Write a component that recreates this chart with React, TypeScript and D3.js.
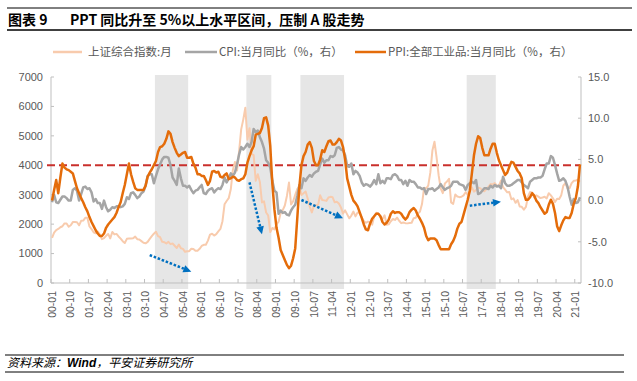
import React from "react";
import * as d3 from "d3";

// ---------- data ----------
const startYear = 2000;
const monthCount = 255; // 2000-01 .. 2021-03
const categories: string[] = [];
for (let i = 0; i < monthCount; i++) {
  const y = startYear + Math.floor(i / 12);
  const m = (i % 12) + 1;
  categories.push(`${String(y % 100).padStart(2, "0")}-${String(m).padStart(2, "0")}`);
}

const tickLabels = [
  "00-01", "00-10", "01-07", "02-04", "03-01", "03-10", "04-07", "05-04", "06-01", "06-10",
  "07-07", "08-04", "09-01", "09-10", "10-07", "11-04", "12-01", "12-10", "13-07", "14-04",
  "15-01", "15-10", "16-07", "17-04", "18-01", "18-10", "19-07", "20-04", "21-01",
];

const leftTicks = [0, 1000, 2000, 3000, 4000, 5000, 6000, 7000];
const rightTicks = [-10, -5, 0, 5, 10, 15];

// 上证综合指数:月
const sseIndex = [
  1535, 1714, 1800, 1836, 1894, 1928, 2023, 2021, 1910, 1961, 2070, 2073,
  2066, 1960, 2112, 2120, 2215, 2218, 1921, 1834, 1725, 1690, 1748, 1646,
  1491, 1524, 1603, 1667, 1516, 1733, 1652, 1669, 1581, 1507, 1421, 1358,
  1500, 1511, 1511, 1522, 1576, 1487, 1476, 1422, 1367, 1349, 1397, 1497,
  1590, 1676, 1742, 1595, 1555, 1400, 1386, 1342, 1396, 1320, 1341, 1267,
  1191, 1306, 1181, 1160, 1060, 1081, 1083, 1163, 1155, 1092, 1099, 1161,
  1258, 1299, 1298, 1441, 1642, 1673, 1612, 1658, 1753, 1838, 2099, 2675,
  2786, 2881, 3184, 3841, 4110, 3821, 4471, 5219, 5553, 5955, 4871, 5262,
  4383, 4348, 3473, 3693, 3433, 2736, 2775, 2397, 2293, 1729, 1871, 1821,
  1990, 2082, 2374, 2478, 2633, 2959, 3412, 2668, 2779, 2996, 3195, 3277,
  2989, 3051, 3109, 2870, 2592, 2398, 2638, 2639, 2656, 2979, 2820, 2808,
  2790, 2905, 2928, 2911, 2743, 2762, 2701, 2568, 2359, 2469, 2333, 2199,
  2292, 2428, 2263, 2397, 2373, 2226, 2103, 2047, 2086, 2069, 1980, 2269,
  2385, 2366, 2237, 2178, 2301, 1979, 1994, 2098, 2175, 2142, 2221, 2116,
  2033, 2056, 2033, 2026, 2039, 2048, 2202, 2217, 2364, 2420, 2683, 3235,
  3210, 3310, 3748, 4500, 4800, 4277, 3664, 3206, 3053, 3383, 3445, 3539,
  2738, 2688, 3004, 2938, 2917, 2930, 2979, 3085, 3005, 3100, 3250, 3104,
  3159, 3242, 3223, 3155, 3117, 3192, 3273, 3361, 3349, 3393, 3317, 3307,
  3481, 3259, 3169, 3082, 3095, 2847, 2876, 2725, 2821, 2603, 2588, 2494,
  2585, 2941, 3091, 3078, 2899, 2979, 2933, 2886, 2905, 2929, 2872, 3050,
  2977, 2880, 2750, 2860, 2852, 2985, 3310, 3396, 3218, 3225, 3392, 3473,
  3483, 3509, 3441,
];

// CPI:当月同比（%，右）
const cpiYoY = [
  -0.2, 0.7, -0.2, -0.3, 0.1, 0.5, 0.5, 0.3, 0.0, 0.0, 1.3, 1.5,
  1.2, 0.0, 0.8, 1.6, 1.7, 1.4, 1.5, 1.0, -0.1, 0.2, -0.3, -0.3,
  -1.0, 0.0, -0.8, -1.3, -1.1, -0.8, -0.9, -0.7, -0.7, -0.8, -0.7, -0.4,
  0.4, 0.2, 0.9, 1.0, 0.7, 0.3, 0.5, 0.9, 1.1, 1.8, 3.0, 3.2,
  3.2, 2.1, 3.0, 3.8, 4.4, 5.0, 5.3, 5.3, 5.2, 4.3, 2.8, 2.4,
  1.9, 3.9, 2.7, 1.8, 1.8, 1.6, 1.8, 1.3, 0.9, 1.2, 1.3, 1.6,
  1.9, 0.9, 0.8, 1.2, 1.4, 1.5, 1.0, 1.3, 1.5, 1.4, 1.9, 2.8,
  2.2, 2.7, 3.3, 3.0, 3.4, 4.4, 5.6, 6.5, 6.2, 6.5, 6.9, 6.5,
  7.1, 8.7, 8.3, 8.5, 7.7, 7.1, 6.3, 4.9, 4.6, 4.0, 2.4, 1.2,
  1.0, -1.6, -1.2, -1.5, -1.4, -1.7, -1.8, -1.2, -0.8, -0.5, 0.6, 1.9,
  1.5, 2.7, 2.4, 2.8, 3.1, 2.9, 3.3, 3.5, 3.6, 4.4, 5.1, 4.6,
  4.9, 4.9, 5.4, 5.3, 5.5, 6.4, 6.5, 6.2, 6.1, 5.5, 4.2, 4.1,
  4.5, 3.2, 3.6, 3.4, 3.0, 2.2, 1.8, 2.0, 1.9, 1.7, 2.0, 2.5,
  2.0, 3.2, 2.1, 2.4, 2.1, 2.7, 2.7, 2.6, 3.1, 3.2, 3.0, 2.5,
  2.5, 2.0, 2.4, 1.8, 2.5, 2.3, 2.3, 2.0, 1.6, 1.6, 1.4, 1.5,
  0.8, 1.4, 1.4, 1.5, 1.2, 1.4, 1.6, 2.0, 1.6, 1.3, 1.5, 1.6,
  1.8, 2.3, 2.3, 2.3, 2.0, 1.9, 1.8, 1.3, 1.9, 2.1, 2.3, 2.1,
  2.5, 0.8, 0.9, 1.2, 1.5, 1.5, 1.4, 1.8, 1.6, 1.9, 1.7, 1.8,
  1.5, 2.9, 2.1, 1.8, 1.8, 1.9, 2.1, 2.3, 2.5, 2.5, 2.2, 1.9,
  1.7, 1.5, 2.3, 2.5, 2.7, 2.7, 2.8, 2.8, 3.0, 3.8, 4.5, 4.5,
  5.4, 5.2, 4.3, 3.3, 2.4, 2.5, 2.7, 2.4, 1.7, 0.5, -0.5, 0.2,
  -0.3, -0.2, 0.4,
];

// PPI:全部工业品:当月同比（%，右）
const ppiYoY = [
  0.0, 1.3, 2.5, 0.9, 2.8, 4.5, 4.0, 3.8, 3.7, 3.5, 3.3, 2.4,
  1.5, 0.9, 0.3, -0.2, -0.8, -1.3, -2.0, -2.6, -3.1, -3.6, -4.0, -4.3,
  -4.3, -4.0, -3.3, -2.9, -2.6, -2.3, -2.0, -1.5, -0.8, -0.2, 0.9, 1.9,
  3.2, 4.5, 3.2, 2.3, 1.5, 1.3, 1.3, 1.3, 1.3, 1.8, 2.9, 3.4,
  3.8, 4.3, 4.8, 5.9, 6.5, 6.6, 6.9, 7.5, 8.4, 8.1, 7.1, 6.4,
  5.8, 5.4, 5.6, 5.8, 5.9, 5.2, 5.2, 5.3, 4.5, 4.0, 3.2, 3.2,
  3.0, 3.0, 2.5, 1.9, 2.4, 3.5, 3.6, 3.4, 3.5, 2.9, 2.8, 3.1,
  3.3, 2.6, 2.7, 2.9, 2.8, 2.5, 2.4, 2.6, 2.7, 3.2, 4.6, 5.4,
  6.1, 6.6, 8.0, 8.1, 8.2, 8.8, 10.0, 10.1, 9.1, 6.6, 2.0, -1.1,
  -3.3, -4.5, -6.0, -6.6, -7.2, -7.8, -8.2, -7.9, -7.0, -5.8, -2.1, 1.7,
  4.3, 5.4, 5.9, 6.8, 7.1, 6.4, 4.8, 4.3, 4.3, 5.0, 6.1, 5.9,
  6.6, 7.2, 7.3, 6.8, 6.8, 7.1, 7.5, 7.3, 6.5, 5.0, 2.7, 1.7,
  0.7, 0.0, -0.3, -0.7, -1.4, -2.1, -2.9, -3.5, -3.6, -2.8, -2.2, -1.9,
  -1.6, -1.6, -1.9, -2.6, -2.9, -2.7, -2.3, -1.6, -1.3, -1.5, -1.4, -1.4,
  -1.6, -2.0, -2.3, -2.0, -1.4, -1.1, -0.9, -1.2, -1.8, -2.2, -2.7, -3.3,
  -4.3, -4.8, -4.6, -4.6, -4.6, -4.8, -5.4, -5.9, -5.9, -5.9, -5.9, -5.9,
  -5.3, -4.9, -4.3, -3.4, -2.8, -2.6, -1.7, -0.8, 0.1, 1.2, 3.3, 5.5,
  6.9, 7.8, 7.6, 6.4, 5.5, 5.5, 5.5, 6.3, 6.9, 6.9, 5.8, 4.9,
  4.3, 3.7, 3.1, 3.4, 4.1, 4.7, 4.6, 4.1, 3.6, 3.3, 2.7, 0.9,
  0.1, 0.1, 0.4, 0.9, 0.6, 0.0, -0.3, -0.8, -1.2, -1.6, -1.4, -0.5,
  0.1, -0.4, -1.5, -3.1, -3.7, -3.0, -2.4, -2.0, -2.1, -2.1, -1.5, -0.4,
  0.3, 1.7, 4.4,
];

// shaded periods (start month, end month)
const shadedStart = ["04-03", "07-11", "10-01", "16-09"];
const shadedEnd = ["05-06", "08-10", "11-09", "17-10"];

// reference level on left axis
const referenceLevel = 4000;

// blue arrows (from month/value -> to month/value, left-axis units)
const arrowFromMonth = ["03-12", "07-12", "10-01", "16-10"];
const arrowFromValue = [950, 3420, 2820, 2627];
const arrowToMonth = ["05-08", "08-06", "11-09", "18-01"];
const arrowToValue = [385, 1655, 2198, 2763];

const seriesNames = ["上证综合指数:月", "CPI:当月同比（%，右）", "PPI:全部工业品:当月同比（%，右）"];
const seriesColors = ["#f8cbad", "#a5a5a5", "#e46c0a"];

// ---------- layout ----------
const W = 637;
const H = 381;
const plotL = 51;
const plotR = 581;
const plotT = 77;
const plotB = 283;

const CJK = '"Noto Sans CJK SC", "Noto Sans", sans-serif';
const NUM = '"Liberation Sans", Arial, sans-serif';

export default function App() {
  const x = d3.scaleBand<string>().domain(categories).range([plotL, plotR]).paddingInner(0).paddingOuter(0);
  const bw = x.bandwidth();
  const xc = (c: string) => (x(c) as number) + bw / 2;
  const yL = d3.scaleLinear().domain([0, 7000]).range([plotB, plotT]);
  const yR = d3.scaleLinear().domain([-10, 15]).range([plotB, plotT]);

  const lineL = d3
    .line<number>()
    .x((_, i) => xc(categories[i]))
    .y((d) => yL(d));
  const lineR = d3
    .line<number>()
    .x((_, i) => xc(categories[i]))
    .y((d) => yR(d));

  const tickColor = "#595959";
  const axisColor = "#bfbfbf";

  const arrows = arrowFromMonth.map((m, k) => {
    const x1 = xc(m);
    const y1 = yL(arrowFromValue[k]);
    const x2 = xc(arrowToMonth[k]);
    const y2 = yL(arrowToValue[k]);
    const ang = Math.atan2(y2 - y1, x2 - x1);
    const headLen = 8;
    const headW = 3.8;
    const bx = x2 - headLen * Math.cos(ang);
    const by = y2 - headLen * Math.sin(ang);
    const px = -Math.sin(ang);
    const py = Math.cos(ang);
    const head = `${x2},${y2} ${bx + px * headW},${by + py * headW} ${bx - px * headW},${by - py * headW}`;
    return { x1, y1, bx, by, head };
  });

  const legendItems = [
    { x1: 53, x2: 82, tx: 88 },
    { x1: 185, x2: 217, tx: 219 },
    { x1: 355, x2: 386, tx: 388 },
  ];

  return (
    <svg
      width={W}
      height={H}
      viewBox={`0 0 ${W} ${H}`}
      style={{ position: "absolute", left: 0, top: 0, background: "#fff" }}
    >
      <rect x={0} y={0} width={W} height={H} fill="#fff" />
      {/* header */}
      <line x1={7} x2={632} y1={8} y2={8} stroke="#000" strokeWidth={1} />
      <text x={8} y={25} fontFamily={CJK} fontWeight={700} fontSize={14} fill="#000">
        图表 9
      </text>
      <text x={70} y={25} fontFamily={CJK} fontWeight={700} fontSize={14} fill="#000">
        PPT 同比升至 5%以上水平区间，压制 A 股走势
      </text>
      <line x1={7} x2={632} y1={30} y2={30} stroke="#000" strokeWidth={1.5} />

      {/* legend */}
      {legendItems.map((it, k) => (
        <g key={k}>
          <line x1={it.x1} x2={it.x2} y1={52} y2={52} stroke={seriesColors[k]} strokeWidth={2.5} />
          <text x={it.tx} y={56} fontFamily={CJK} fontSize={11.5} fill={tickColor}>
            {seriesNames[k]}
          </text>
        </g>
      ))}

      {/* shaded periods */}
      {shadedStart.map((s, k) => (
        <rect
          key={k}
          x={x(s) as number}
          y={75}
          width={(x(shadedEnd[k]) as number) + bw - (x(s) as number)}
          height={289 - 75}
          fill="#e6e6e6"
        />
      ))}

      {/* axes */}
      <line x1={plotL} x2={plotL} y1={plotT} y2={plotB} stroke={axisColor} strokeWidth={1} />
      <line x1={plotR} x2={plotR} y1={plotT} y2={plotB} stroke={axisColor} strokeWidth={1} />
      <line x1={plotL} x2={plotR} y1={plotB} y2={plotB} stroke={axisColor} strokeWidth={1} />
      {leftTicks.map((t) => (
        <g key={`l${t}`}>
          <line x1={plotL} x2={plotL + 3} y1={yL(t)} y2={yL(t)} stroke={axisColor} />
          <text x={43} y={yL(t)} dy="0.35em" textAnchor="end" fontFamily={NUM} fontSize={11} fill={tickColor}>
            {t}
          </text>
        </g>
      ))}
      {rightTicks.map((t) => (
        <g key={`r${t}`}>
          <line x1={plotR - 3} x2={plotR} y1={yR(t)} y2={yR(t)} stroke={axisColor} />
          <text x={588} y={yR(t)} dy="0.35em" textAnchor="start" fontFamily={NUM} fontSize={11} fill={tickColor}>
            {t.toFixed(1)}
          </text>
        </g>
      ))}
      {tickLabels.map((c) => (
        <g key={c}>
          <line x1={x(c) as number} x2={x(c) as number} y1={plotB - 4} y2={plotB} stroke={axisColor} />
          <text
            transform={`translate(${xc(c)},${291}) rotate(-90)`}
            dy="0.35em"
            textAnchor="end"
            fontFamily={NUM}
            fontSize={10.5}
            fill={tickColor}
          >
            {c}
          </text>
        </g>
      ))}

      {/* reference dashed line */}
      <line
        x1={47}
        x2={580}
        y1={yL(referenceLevel)}
        y2={yL(referenceLevel)}
        stroke="#c9302c"
        strokeWidth={2}
        strokeDasharray="8 4"
      />

      {/* series */}
      <path d={lineL(sseIndex) || ""} fill="none" stroke={seriesColors[0]} strokeWidth={2} strokeLinejoin="round" />
      <path d={lineR(cpiYoY) || ""} fill="none" stroke={seriesColors[1]} strokeWidth={2.5} strokeLinejoin="round" />
      <path d={lineR(ppiYoY) || ""} fill="none" stroke={seriesColors[2]} strokeWidth={2.5} strokeLinejoin="round" />

      {/* arrows */}
      {arrows.map((a, k) => (
        <g key={k}>
          <line
            x1={a.x1}
            y1={a.y1}
            x2={a.bx}
            y2={a.by}
            stroke="#0070c0"
            strokeWidth={2.5}
            strokeDasharray="2.5 1.8"
          />
          <polygon points={a.head} fill="#0070c0" />
        </g>
      ))}

      {/* footer */}
      <line x1={5} x2={624} y1={355} y2={355} stroke="#000" strokeWidth={1} />
      <text x={7} y={367} fontSize={12} fill="#000" fontStyle="italic">
        <tspan fontFamily={CJK}>资料来源：</tspan>
        <tspan fontFamily={NUM} fontWeight={700}>Wind</tspan>
        <tspan fontFamily={CJK}>，平安证券研究所</tspan>
      </text>
      <line x1={5} x2={624} y1={372} y2={372} stroke="#000" strokeWidth={1} />
    </svg>
  );
}
